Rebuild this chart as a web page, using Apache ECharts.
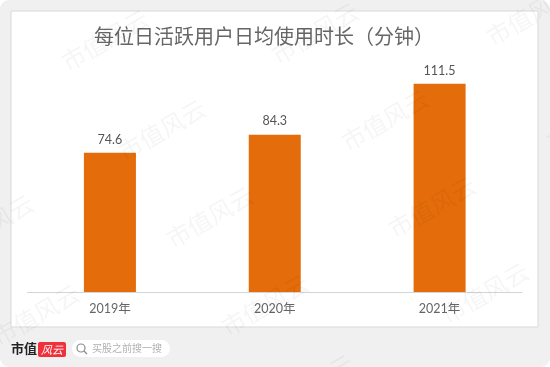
<!DOCTYPE html>
<html><head><meta charset="utf-8">
<style>html,body{margin:0;padding:0;background:#fff}#c{width:550px;height:367px}</style>
<script src="https://cdn.jsdelivr.net/npm/echarts@6/dist/echarts.min.js"></script>
</head><body><div id="c"></div>
<script>
const categories = ['2019年','2020年','2021年'];
const usageMinutes = [74.6,84.3,111.5];
const chartTitle = '每位日活跃用户日均使用时长（分钟）';
const watermarkText = '市值风云';
const watermarkSpots = [[105,40],[315,33],[530,15],[162,130],[385,120],[590,120],[-10,225],[210,217],[432,207],[36,315],[265,305],[485,293],[310,385]];
const sans = '"Lato","Noto Sans CJK SC",sans-serif';
const chart = echarts.init(document.getElementById('c'));
const graphics = [
  {type:'rect',z:-3,shape:{x:0,y:0,width:550,height:367,r:[9,9,9,9]},style:{fill:'#f0f0f0'}},
  {type:'rect',z:-2,shape:{x:11,y:11,width:527,height:316},style:{fill:'#fff',stroke:'#d9d9d9',lineWidth:1}},
  {type:'text',z:5,x:11,y:342,style:{text:'市值',font:'bold 13px "Noto Sans CJK SC"',fill:'#222'}},
  {type:'rect',z:5,shape:{x:38,y:342,width:28,height:15,r:2},style:{fill:'#f0313c'}},
  {type:'text',z:6,x:41,y:344,style:{text:'风云',font:'italic 11px "Noto Sans CJK SC"',fill:'#fff'}},
  {type:'rect',z:5,shape:{x:72,y:340,width:98,height:17,r:8.5},style:{fill:'#fff'}},
  {type:'circle',z:6,shape:{cx:81,cy:348,r:4},style:{fill:'none',stroke:'#8a8a8a',lineWidth:1.2}},
  {type:'line',z:6,shape:{x1:84,y1:351,x2:87,y2:354},style:{stroke:'#8a8a8a',lineWidth:1.2}},
  {type:'text',z:6,x:92,y:343,style:{text:'买股之前搜一搜',font:'10px "Noto Sans CJK SC"',fill:'#b0b0b0'}}
];
watermarkSpots.forEach(function(p){
  graphics.push({type:'text',z:100,x:p[0],y:p[1],rotation:Math.PI/6,
    style:{text:watermarkText,font:'24px "Noto Sans CJK SC"',fill:'rgba(0,0,0,0.04)',align:'center',verticalAlign:'middle'}});
});
chart.setOption({
  animation:false,
  backgroundColor:'#fff',
  title:{text:chartTitle,left:259,top:21,textAlign:'center',textStyle:{fontFamily:'"Noto Sans CJK SC"',fontSize:20,fontWeight:'normal',color:'#666'}},
  grid:{left:27.5,right:28,top:68,bottom:75},
  xAxis:{type:'category',data:categories,axisTick:{show:false},
    axisLine:{lineStyle:{color:'#d4d4d4',width:1}},
    axisLabel:{fontFamily:sans,fontSize:12.5,color:'#666',margin:11}},
  yAxis:{type:'value',min:0,max:120,show:false},
  graphic:graphics,
  series:[{type:'bar',data:usageMinutes,barWidth:52,
    itemStyle:{color:'#e46c0a'},
    label:{show:true,position:'top',distance:7,fontFamily:sans,fontSize:12.5,color:'#555'}}]
});
</script></body></html>
